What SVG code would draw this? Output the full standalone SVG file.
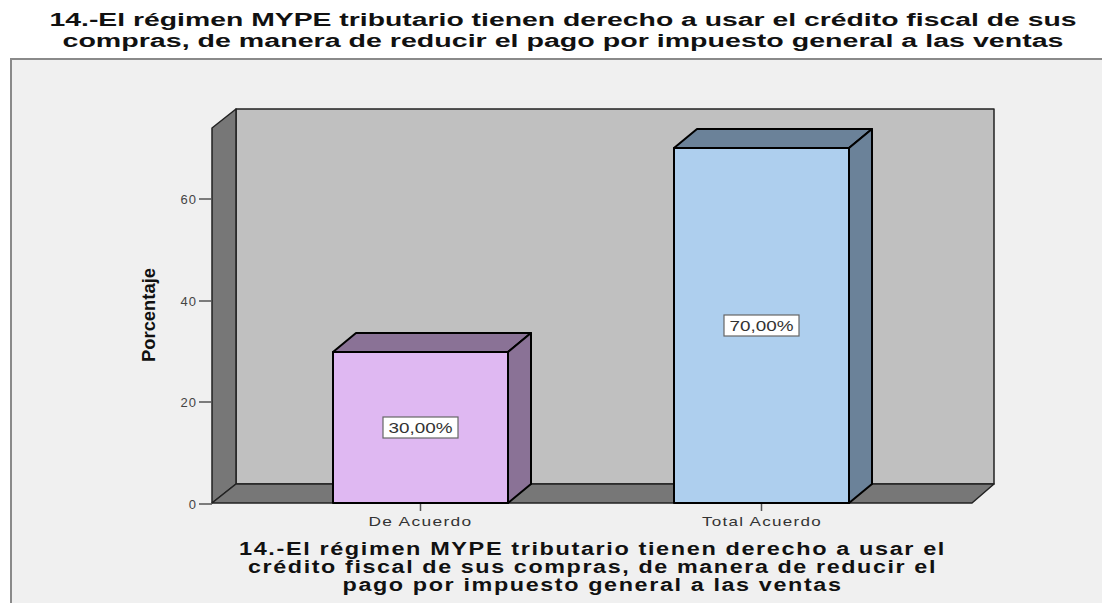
<svg xmlns="http://www.w3.org/2000/svg" width="1102" height="603" viewBox="0 0 1102 603">
<style>
.title{font-family:"Liberation Sans",Arial,sans-serif;font-weight:bold;fill:#111;text-anchor:middle}
.tick{font-family:"Liberation Sans",Arial,sans-serif;font-size:13px;fill:#444;text-anchor:end;letter-spacing:1px}
.cat{font-family:"Liberation Sans",Arial,sans-serif;font-size:13px;fill:#333;text-anchor:middle;letter-spacing:1px}
.val{font-family:"Liberation Sans",Arial,sans-serif;font-size:14px;fill:#333;text-anchor:middle}
.edge{stroke:#222;stroke-width:1.5;stroke-linejoin:round}
.bar{stroke:#000;stroke-width:2;stroke-linejoin:round}
.tk{stroke:#555;stroke-width:1.5}
.lbl{fill:#fff;stroke:#666;stroke-width:1.2}
</style>
<rect x="0" y="0" width="1102" height="603" fill="#ffffff"/>
<g id="title">
<text class="title" x="563" y="26" font-size="18" textLength="1027" lengthAdjust="spacingAndGlyphs">14.-El régimen MYPE tributario tienen derecho a usar el crédito fiscal de sus</text>
<text class="title" x="563" y="46.5" font-size="18" textLength="1001" lengthAdjust="spacingAndGlyphs">compras, de manera de reducir el pago por impuesto general a las ventas</text>
</g>
<g id="frame">
<rect x="11" y="59" width="1102" height="560" fill="#f0f0f0" stroke="#8a8a8a" stroke-width="2"/>
</g>
<g id="plot">
<polygon class="edge" points="236,109 994,109 994,484 236,484" fill="#c0c0c0" stroke="#555"/>
<polygon class="edge" points="212,128 236,109 236,484 212,503" fill="#777777"/>
<polygon class="edge" points="212,503 236,484 994,484 972,503" fill="#777777"/>
</g>
<g id="yaxis">
<line class="tk" x1="199" y1="504" x2="212" y2="504"/>
<line class="tk" x1="199" y1="402" x2="212" y2="402"/>
<line class="tk" x1="199" y1="301" x2="212" y2="301"/>
<line class="tk" x1="199" y1="199" x2="212" y2="199"/>
<text class="tick" x="197" y="509">0</text>
<text class="tick" x="197" y="407">20</text>
<text class="tick" x="197" y="306">40</text>
<text class="tick" x="197" y="204">60</text>
<text transform="translate(155,315) rotate(-90)" font-family="'Liberation Sans',Arial,sans-serif" font-weight="bold" font-size="18" fill="#111" text-anchor="middle" textLength="94" lengthAdjust="spacingAndGlyphs">Porcentaje</text>
</g>
<g id="bar-de-acuerdo">
<polygon class="bar" points="333,352 356,333 531,333 508,352" fill="#8a7296"/>
<polygon class="bar" points="508,352 531,333 531,484 508,503" fill="#8a7296"/>
<rect class="bar" x="333" y="352" width="175" height="151" fill="#dfb8f2"/>
<rect class="lbl" x="383" y="417" width="75" height="21"/>
<text class="val" x="420.5" y="432.5" textLength="64" lengthAdjust="spacingAndGlyphs">30,00%</text>
</g>
<g id="bar-total-acuerdo">
<polygon class="bar" points="674,148 697,129 872,129 849,148" fill="#6b8299"/>
<polygon class="bar" points="849,148 872,129 872,484 849,503" fill="#6b8299"/>
<rect class="bar" x="674" y="148" width="175" height="355" fill="#aecfee"/>
<rect class="lbl" x="724" y="315" width="75" height="21"/>
<text class="val" x="761.5" y="330.5" textLength="64" lengthAdjust="spacingAndGlyphs">70,00%</text>
</g>
<g id="xaxis">
<line class="tk" x1="420.5" y1="504" x2="420.5" y2="511"/>
<line class="tk" x1="761.5" y1="504" x2="761.5" y2="511"/>
<text class="cat" x="420.5" y="526" textLength="104" lengthAdjust="spacingAndGlyphs">De Acuerdo</text>
<text class="cat" x="762" y="526" textLength="120" lengthAdjust="spacingAndGlyphs">Total Acuerdo</text>
</g>
<g id="xtitle">
<text class="title" x="592.5" y="555" font-size="17.5" letter-spacing="1.2" textLength="707" lengthAdjust="spacingAndGlyphs">14.-El régimen MYPE tributario tienen derecho a usar el</text>
<text class="title" x="592.5" y="573" font-size="17.5" letter-spacing="1.2" textLength="689" lengthAdjust="spacingAndGlyphs">crédito fiscal de sus compras, de manera de reducir el</text>
<text class="title" x="592.5" y="591" font-size="17.5" letter-spacing="1.2" textLength="500" lengthAdjust="spacingAndGlyphs">pago por impuesto general a las ventas</text>
</g>
</svg>
